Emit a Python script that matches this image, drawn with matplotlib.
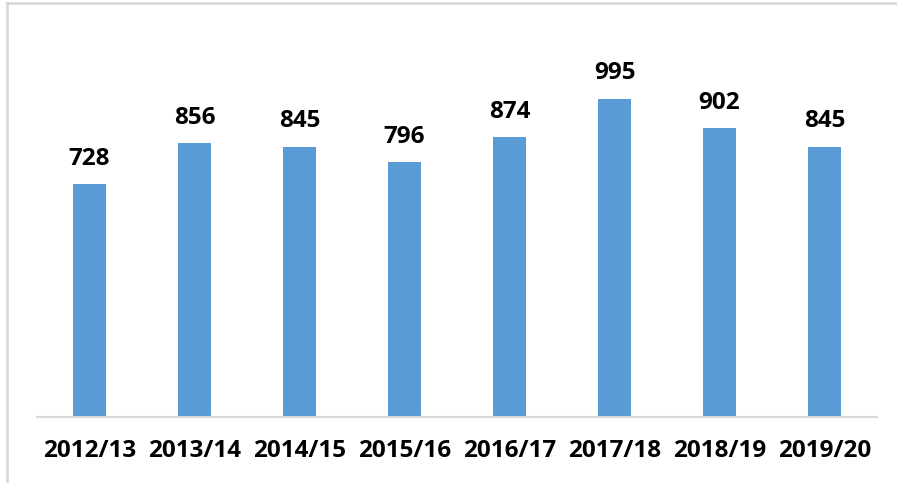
import matplotlib
matplotlib.use("Agg")
import matplotlib.pyplot as plt
from matplotlib.lines import Line2D

categories = ["2012/13", "2013/14", "2014/15", "2015/16", "2016/17", "2017/18", "2018/19", "2019/20"]
values = [728, 856, 845, 796, 874, 995, 902, 845]

W, H = 897, 483
fig = plt.figure(figsize=(W / 100, H / 100), dpi=100)
fig.patch.set_facecolor("white")

ax = fig.add_axes([37 / W, 66 / H, 840 / W, (417 - 33) / H])
x = list(range(len(categories)))
ax.bar(x, values, width=0.315, color="#5B9BD5", zorder=2)
ax.set_xlim(-0.5, len(categories) - 0.5)
ax.set_ylim(0, 1200)

font = dict(family="Open Sans", weight="bold", size=17.5, color="#000000")
for xi, v in zip(x, values):
    ax.annotate(str(v), (xi, v), xytext=(0, 9.5), textcoords="offset points",
                ha="center", va="bottom", **font)

ax.set_xticks(x)
ax.set_xticklabels(categories, **font)
ax.tick_params(axis="x", length=0, pad=16)
ax.set_yticks([])
for s in ["top", "right", "left"]:
    ax.spines[s].set_visible(False)
ax.spines["bottom"].set_color("#D9D9D9")
ax.spines["bottom"].set_linewidth(1.5)

# outer chart border (top and left visible)
fig.add_artist(Line2D([6.5 / W, 1.0], [1 - 3 / H, 1 - 3 / H], transform=fig.transFigure,
                      color="#D9D9D9", linewidth=2))
fig.add_artist(Line2D([6.5 / W, 6.5 / W], [0, 1 - 3 / H], transform=fig.transFigure,
                      color="#D9D9D9", linewidth=2))

fig.savefig("out.png", dpi=100)
